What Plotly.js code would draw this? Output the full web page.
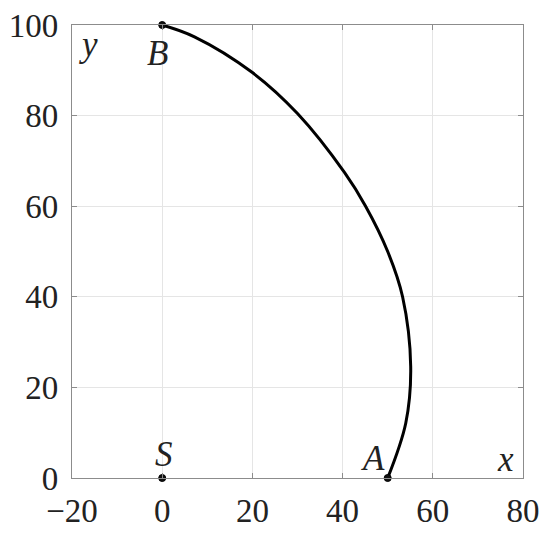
<!DOCTYPE html>
<html>
<head>
<meta charset="utf-8">
<script src="https://cdn.plot.ly/plotly-3.0.1.min.js"></script>
<style>html,body{margin:0;padding:0;background:#fff;}#plot{width:550px;height:538px;}</style>
</head>
<body>
<div id="plot"></div>
<script>
// Curve from B (0,100) to A (50,0)
const curveX = [0, 7.15, 20.0, 30.0, 40.45, 45.1, 50.0, 53.3, 55.1, 54.0, 50];
const curveY = [100, 97.4, 89.5, 80.45, 67.4, 60.0, 50.0, 40.0, 24.6, 12.1, 0];

const pointNames = ["B", "S", "A"];
const pointX = [0, 0, 50];
const pointY = [100, 0, 0];

const labelTexts = ["y", "B", "S", "A", "x"];
const labelX = [-16.4, -1.1, 0.4, 46.7, 76.2];
const labelY = [95.6, 93.8, 5.1, 4.2, 4.0];

const xTicks = [-20, 0, 20, 40, 60, 80];
const yTicks = [0, 20, 40, 60, 80, 100];

const serif = "Liberation Serif, DejaVu Serif, serif";

const traces = [
  {
    x: curveX, y: curveY, type: "scatter", mode: "lines",
    line: {color: "#000", width: 3, shape: "spline", smoothing: 1},
    hoverinfo: "skip", showlegend: false, cliponaxis: false
  },
  {
    x: pointX, y: pointY, text: pointNames, type: "scatter", mode: "markers",
    marker: {color: "#111", size: 7, line: {color: "#000", width: 1}},
    showlegend: false, cliponaxis: false
  }
];

const annotations = labelTexts.map((t, i) => ({
  x: labelX[i], y: labelY[i], xref: "x", yref: "y",
  text: "<i>" + t + "</i>", showarrow: false,
  font: {family: serif, size: 35, color: "#222"}
}));

const axisCommon = {
  showline: true, linecolor: "#8c8c8c", linewidth: 1.2, mirror: "ticks",
  ticks: "inside", ticklen: 5, tickcolor: "#8c8c8c", tickwidth: 1,
  showgrid: true, gridcolor: "#e5e5e5", gridwidth: 1,
  zeroline: false,
  tickfont: {family: serif, size: 33, color: "#222"}
};

const layout = {
  width: 550, height: 538,
  margin: {l: 72, r: 27, t: 25, b: 60},
  paper_bgcolor: "#fff", plot_bgcolor: "#fff",
  xaxis: Object.assign({}, axisCommon, {
    range: [-20, 80], tickvals: xTicks, ticktext: xTicks.map(v => v < 0 ? "\u2212" + Math.abs(v) : String(v)),
    ticklabelstandoff: 3
  }),
  yaxis: Object.assign({}, axisCommon, {
    range: [0, 100], tickvals: yTicks, ticktext: yTicks.map(String),
    ticklabelstandoff: 6
  }),
  annotations: annotations,
  showlegend: false
};

Plotly.newPlot("plot", traces, layout, {staticPlot: true, displayModeBar: false});
</script>
</body>
</html>
